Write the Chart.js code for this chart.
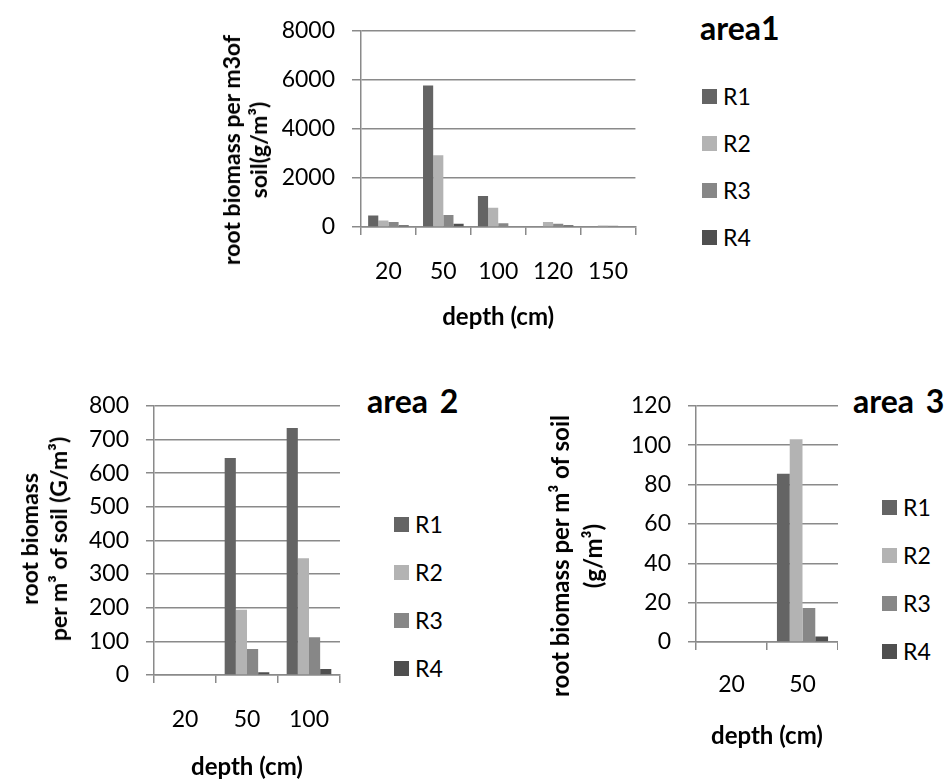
<!DOCTYPE html>
<html>
<head>
<meta charset="utf-8">
<script src="https://cdn.jsdelivr.net/npm/chart.js@4.4.0/dist/chart.umd.min.js"></script>
<style>
  body { margin: 0; width: 949px; height: 783px; background: #fff; position: relative; overflow: hidden; font-family: Lato, sans-serif; }
  .holder { position: absolute; }
  .title { position: absolute; font: bold 32px/32px Lato, sans-serif; color: #000; white-space: nowrap; word-spacing: 4px; }
  .legend { position: absolute; font: 23px/20px Lato, sans-serif; color: #000; }
  .legend .row { display: flex; align-items: center; height: 20px; }
  .legend .sw { width: 15px; height: 15px; margin-right: 6px; }
  .ytitle { position: absolute; width: 0; height: 0; }
  .ytitle div { position: absolute; left: 0; top: 0; transform: translate(-50%, -50%) rotate(-90deg);
                font: bold 23px Lato, sans-serif; color: #000; text-align: center; white-space: nowrap; }
</style>
</head>
<body>

<div class="holder" style="left:210px;top:0px;width:441px;height:337px"><canvas id="area1"></canvas></div>
<div class="holder" style="left:0px;top:375px;width:352px;height:408px"><canvas id="area2"></canvas></div>
<div class="holder" style="left:540px;top:375px;width:298px;height:377px"><canvas id="area3"></canvas></div>

<div class="title" style="left:700px;top:12px">area1</div>
<div class="title" style="left:367px;top:385px">area 2</div>
<div class="title" style="left:853px;top:385px">area 3</div>

<!-- y axis titles, rotated -->
<div class="ytitle" style="left:245px;top:150px"><div style="line-height:27px">root biomass per m3of<br>soil(g/m³)</div></div>
<div class="ytitle" style="left:44px;top:539px"><div style="line-height:29px">root biomass<br>per m³ of soil (G/m³)</div></div>
<div class="ytitle" style="left:576px;top:556px"><div style="font-size:24px;line-height:33px">root biomass per m³ of soil<br>(g/m³)</div></div>

<div class="legend" id="legend1" style="left:702px;top:86px"></div>
<div class="legend" id="legend2" style="left:394px;top:514px"></div>
<div class="legend" id="legend3" style="left:882px;top:497px"></div>

<script>
// series names and bar colours (shared by all three charts)
const seriesNames = ['R1', 'R2', 'R3', 'R4'];
const seriesColors = ['#646464', '#b3b3b3', '#878787', '#4f4f4f'];

// area 1
const depths1 = ['20', '50', '100', '120', '150'];
const area1R1 = [470, 5770, 1260, 0, 0];
const area1R2 = [260, 2930, 790, 200, 60];
const area1R3 = [200, 490, 150, 130, 50];
const area1R4 = [70, 130, 0, 70, 0];

// area 2
const depths2 = ['20', '50', '100'];
const area2R1 = [0, 645, 734];
const area2R2 = [0, 194, 347];
const area2R3 = [0, 77, 112];
const area2R4 = [0, 8, 18];

// area 3
const depths3 = ['20', '50'];
const area3R1 = [0, 85.5];
const area3R2 = [0, 103];
const area3R3 = [0, 17.3];
const area3R4 = [0, 2.8];

const gridColor = '#8a8a8a';

Chart.defaults.font.family = 'Lato, sans-serif';
Chart.defaults.color = '#000';

function makeDatasets(series, catPct) {
    return series.map((values, i) => ({
        label: seriesNames[i],
        data: values,
        backgroundColor: seriesColors[i],
        borderWidth: 0,
        barPercentage: 1,
        categoryPercentage: catPct
    }));
}

// one bar chart; s holds the sizes that place the axes like the original
function drawChart(id, labels, series, yMax, yStep, s) {
    const ctx = document.getElementById(id).getContext('2d');

    new Chart(ctx, {
        type: 'bar',
        data: {
            labels: labels,
            datasets: makeDatasets(series, s.catPct)
        },
        options: {
            responsive: true,
            maintainAspectRatio: false,
            animation: false,
            layout: { padding: { top: 27, right: 0, bottom: 0, left: 0 } },
            plugins: {
                legend: { display: false },
                tooltip: { enabled: false }
            },
            scales: {
                x: {
                    grid: { drawOnChartArea: false, drawTicks: true, tickLength: 8, color: gridColor, lineWidth: 1.5, offset: true },
                    border: { color: gridColor, width: 1.5 },
                    ticks: { padding: s.xTickPad, font: { size: 23 } },
                    title: {
                        display: true,
                        text: 'depth (cm)',
                        font: { size: 24, weight: 'bold', lineHeight: 1.22 },
                        padding: { top: 0, bottom: s.xTitlePad }
                    },
                    afterFit: scale => { scale.height = s.xHeight; }
                },
                y: {
                    min: 0,
                    max: yMax,
                    grid: { color: gridColor, lineWidth: 1.5, tickLength: s.yTickLen },
                    border: { color: gridColor, width: 1.5 },
                    ticks: { stepSize: yStep, padding: 17, font: { size: 23 }, callback: v => String(v) },
                    afterFit: scale => { scale.width = s.yWidth; }
                }
            }
        }
    });
}

// html legend, built from the series names and colours
function drawLegend(id, gap) {
    const box = document.getElementById(id);
    seriesNames.forEach((name, i) => {
        const row = document.createElement('div');
        row.className = 'row';
        if (i > 0) row.style.marginTop = gap + 'px';
        const sw = document.createElement('span');
        sw.className = 'sw';
        sw.style.background = seriesColors[i];
        const txt = document.createElement('span');
        txt.textContent = name;
        row.appendChild(sw);
        row.appendChild(txt);
        box.appendChild(row);
    });
}

drawChart('area1', depths1, [area1R1, area1R2, area1R3, area1R4], 8000, 2000,
    { catPct: 0.74, yWidth: 151, yTickLen: 9, xTickPad: 23, xHeight: 110, xTitlePad: 5 });

drawChart('area2', depths2, [area2R1, area2R2, area2R3, area2R4], 800, 100,
    { catPct: 0.72, yWidth: 154, yTickLen: 8, xTickPad: 23, xHeight: 108, xTitlePad: 1 });

drawChart('area3', depths3, [area3R1, area3R2, area3R3, area3R4], 120, 20,
    { catPct: 0.72, yWidth: 156, yTickLen: 8, xTickPad: 21, xHeight: 110, xTitlePad: 1 });

drawLegend('legend1', 27);
drawLegend('legend2', 28);
drawLegend('legend3', 28);
</script>
</body>
</html>
